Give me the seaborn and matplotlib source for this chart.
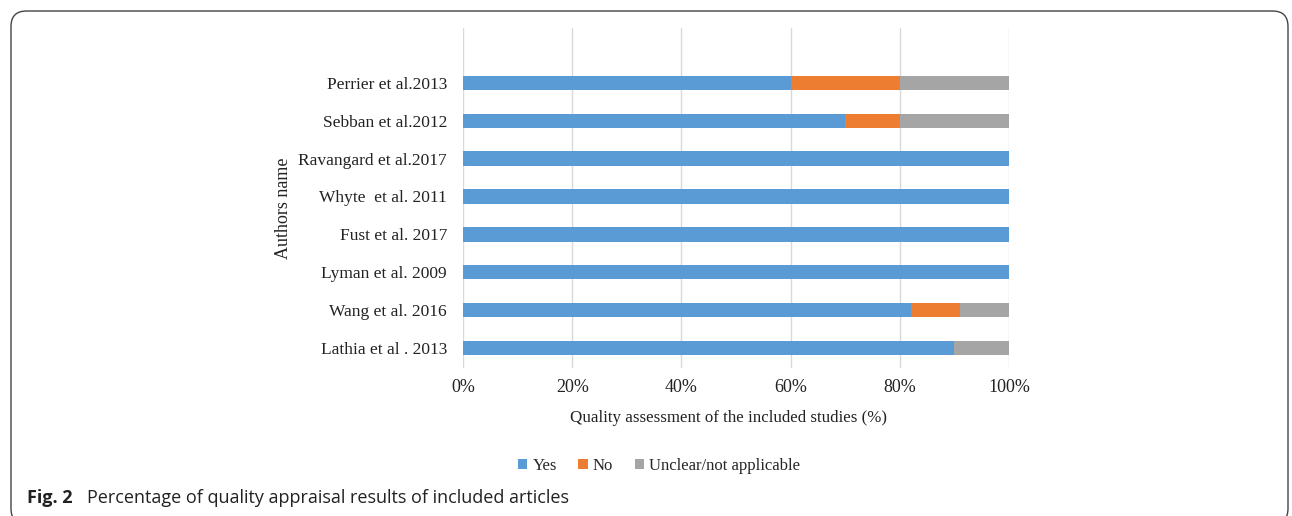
import numpy as np
import pandas as pd
import matplotlib
matplotlib.use("Agg")
import matplotlib.pyplot as plt
import seaborn as sns
from matplotlib.patches import FancyBboxPatch, Patch
from matplotlib.ticker import FuncFormatter

authors = ["Perrier et al.2013", "Sebban et al.2012", "Ravangard et al.2017",
           "Whyte  et al. 2011", "Fust et al. 2017", "Lyman et al. 2009",
           "Wang et al. 2016", "Lathia et al . 2013"]
yes = [60, 70, 100, 100, 100, 100, 82, 90]
no = [20, 10, 0, 0, 0, 0, 9, 0]
unclear = [20, 20, 0, 0, 0, 0, 9, 10]
series_names = ["Yes", "No", "Unclear/not applicable"]
colors = ["#5B9BD5", "#ED7D31", "#A5A5A5"]
xticks = [0, 20, 40, 60, 80, 100]

sns.set_theme(style="white")
plt.rcParams['font.family'] = ['Liberation Serif', 'DejaVu Serif']

df = pd.DataFrame({"author": authors, "yes": yes, "no": no, "unclear": unclear})
df["c_yes"] = df["yes"]
df["c_no"] = df["yes"] + df["no"]
df["c_all"] = df["yes"] + df["no"] + df["unclear"]

W, H = 1292, 516
fig = plt.figure(figsize=(W/100, H/100), dpi=100)
ax = fig.add_axes([463/W, 1-368/H, (1009-463)/W, (368-28)/H])

for col, c in [("c_all", colors[2]), ("c_no", colors[1]), ("c_yes", colors[0])]:
    sns.barplot(data=df, x=col, y="author", orient="h", color=c, width=0.38,
                ax=ax, saturation=1, linewidth=0)

ax.set_xlim(0, 100)
ax.set_ylim(7.53, -1.45)
ax.set_xticks(xticks)
ax.xaxis.set_major_formatter(FuncFormatter(lambda v, p: f"{int(v)}%"))
ax.grid(axis="x", color="#D9D9D9", linewidth=1)
ax.set_axisbelow(True)
for s in ax.spines.values():
    s.set_visible(False)
ax.tick_params(axis="both", length=0, colors="#222222")
ax.tick_params(axis="x", pad=8, labelsize=13)
ax.tick_params(axis="y", pad=11.5, labelsize=12.5)
ax.set_xlabel("Quality assessment of the included studies (%)", fontsize=12.2,
              color="#222222")
ax.xaxis.set_label_coords((729-463)/546, (368-410)/340)
ax.set_ylabel("Authors name", fontsize=13, color="#222222")
ax.yaxis.set_label_coords((292-463)/546, (368-208)/340)

handles = [Patch(facecolor=c, edgecolor="none") for c in colors]
fig.legend(handles, series_names, loc="center", bbox_to_anchor=(659/W, 1-466/H),
           ncol=3, frameon=False, fontsize=12, handlelength=0.55, handleheight=0.55,
           handletextpad=0.3, columnspacing=1.3)

fig.text(27/W, 1-498/H, "Fig. 2", fontsize=13, fontweight="bold",
         family=["Open Sans", "DejaVu Sans"], va="center", ha="left", color="#222222")
fig.text(87/W, 1-498/H, "Percentage of quality appraisal results of included articles",
         fontsize=13, family=["Open Sans", "DejaVu Sans"], va="center", ha="left",
         color="#222222")

frame = FancyBboxPatch((11/W, -8/H), (1288-11)/W, (H - 11 + 8)/H,
                       boxstyle="round,pad=0,rounding_size=0.012",
                       transform=fig.transFigure, fill=False, edgecolor="#444444",
                       linewidth=1.0, mutation_aspect=W/H)
fig.patches.append(frame)

fig.savefig("out.png", dpi=100)
